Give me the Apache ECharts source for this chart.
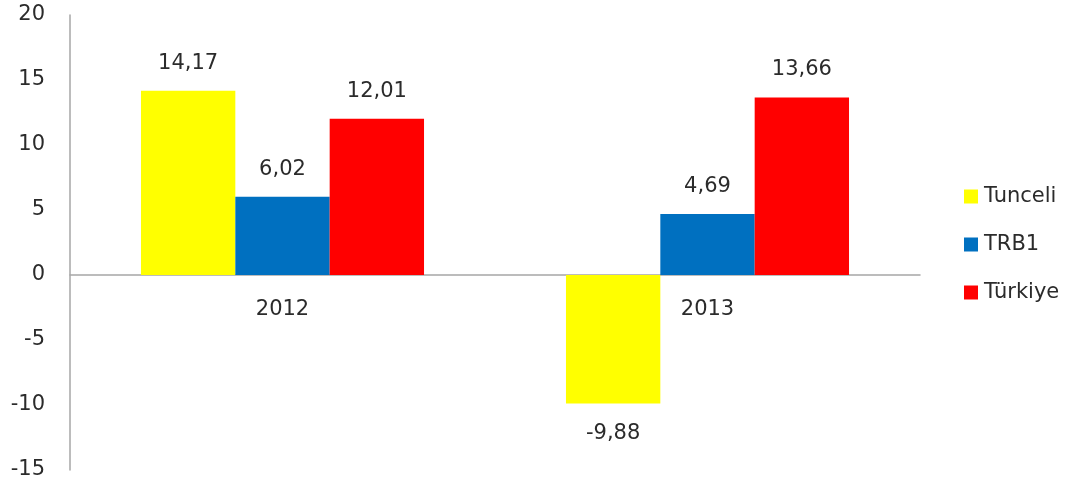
<!DOCTYPE html>
<html>
<head>
<meta charset="utf-8">
<script src="https://cdn.jsdelivr.net/npm/echarts@6/dist/echarts.min.js"></script>
<style>html,body{margin:0;padding:0;background:#fff}#c{width:1068px;height:487px}</style>
</head>
<body>
<div id="c"></div>
<script>
const categories = ['2012', '2013'];
const seriesNames = ['Tunceli', 'TRB1', 'Türkiye'];
const tunceli = [14.17, -9.88];
const trb1 = [6.02, 4.69];
const turkiye = [12.01, 13.66];
const colors = ['#FFFF00', '#0070C0', '#FF0000'];
const yMin = -15, yMax = 20, yStep = 5;

const FONT = 'DejaVu Sans';
const TXT = '#2b2b2b';
const GRID_TOP = 15, GRID_BOTTOM = 17, H = 487;
const gridH = H - GRID_TOP - GRID_BOTTOM;
const zeroOffset = -gridH * (0 - yMin) / (yMax - yMin);

function toData(arr) {
  return arr.map(v => ({
    value: v,
    label: v < 0 ? { position: 'bottom', distance: 20 } : { position: 'top', distance: 17 }
  }));
}

const chart = echarts.init(document.getElementById('c'), null, { renderer: 'canvas' });
const valuesList = [tunceli, trb1, turkiye];
chart.setOption({
  animation: false,
  backgroundColor: '#fff',
  textStyle: { fontFamily: FONT },
  grid: { left: 70, right: 148, top: GRID_TOP, bottom: GRID_BOTTOM, containLabel: false, outerBoundsMode: 'none' },
  legend: {
    orient: 'vertical',
    left: 959,
    top: 181,
    itemWidth: 14,
    itemHeight: 14,
    itemGap: 27,
    icon: 'rect',
    textStyle: { fontFamily: FONT, fontSize: 21, color: TXT, padding: [0, 0, 0, 1] },
    data: seriesNames
  },
  xAxis: {
    type: 'category',
    data: categories,
    position: 'bottom',
    offset: zeroOffset,
    axisLine: { onZero: false, lineStyle: { color: '#A6A6A6', width: 1.5 } },
    axisTick: { show: false },
    axisLabel: { fontFamily: FONT, fontSize: 21, color: TXT, margin: 24 },
    splitLine: { show: false }
  },
  yAxis: {
    type: 'value',
    min: yMin,
    max: yMax,
    interval: yStep,
    axisLine: { show: true, lineStyle: { color: '#A6A6A6', width: 1.5 } },
    axisTick: { show: false },
    splitLine: { show: false },
    axisLabel: { fontFamily: FONT, fontSize: 21, color: TXT, margin: 25 }
  },
  series: seriesNames.map((name, i) => ({
    name: name,
    type: 'bar',
    data: toData(valuesList[i]),
    barGap: '0%',
    barCategoryGap: '33.4%',
    itemStyle: { color: colors[i] },
    label: {
      show: true,
      fontFamily: FONT,
      fontSize: 21,
      color: TXT,
      formatter: p => String(p.value).replace('.', ',').replace(/,(\d)$/, ',$10')
    }
  }))
});
</script>
</body>
</html>
